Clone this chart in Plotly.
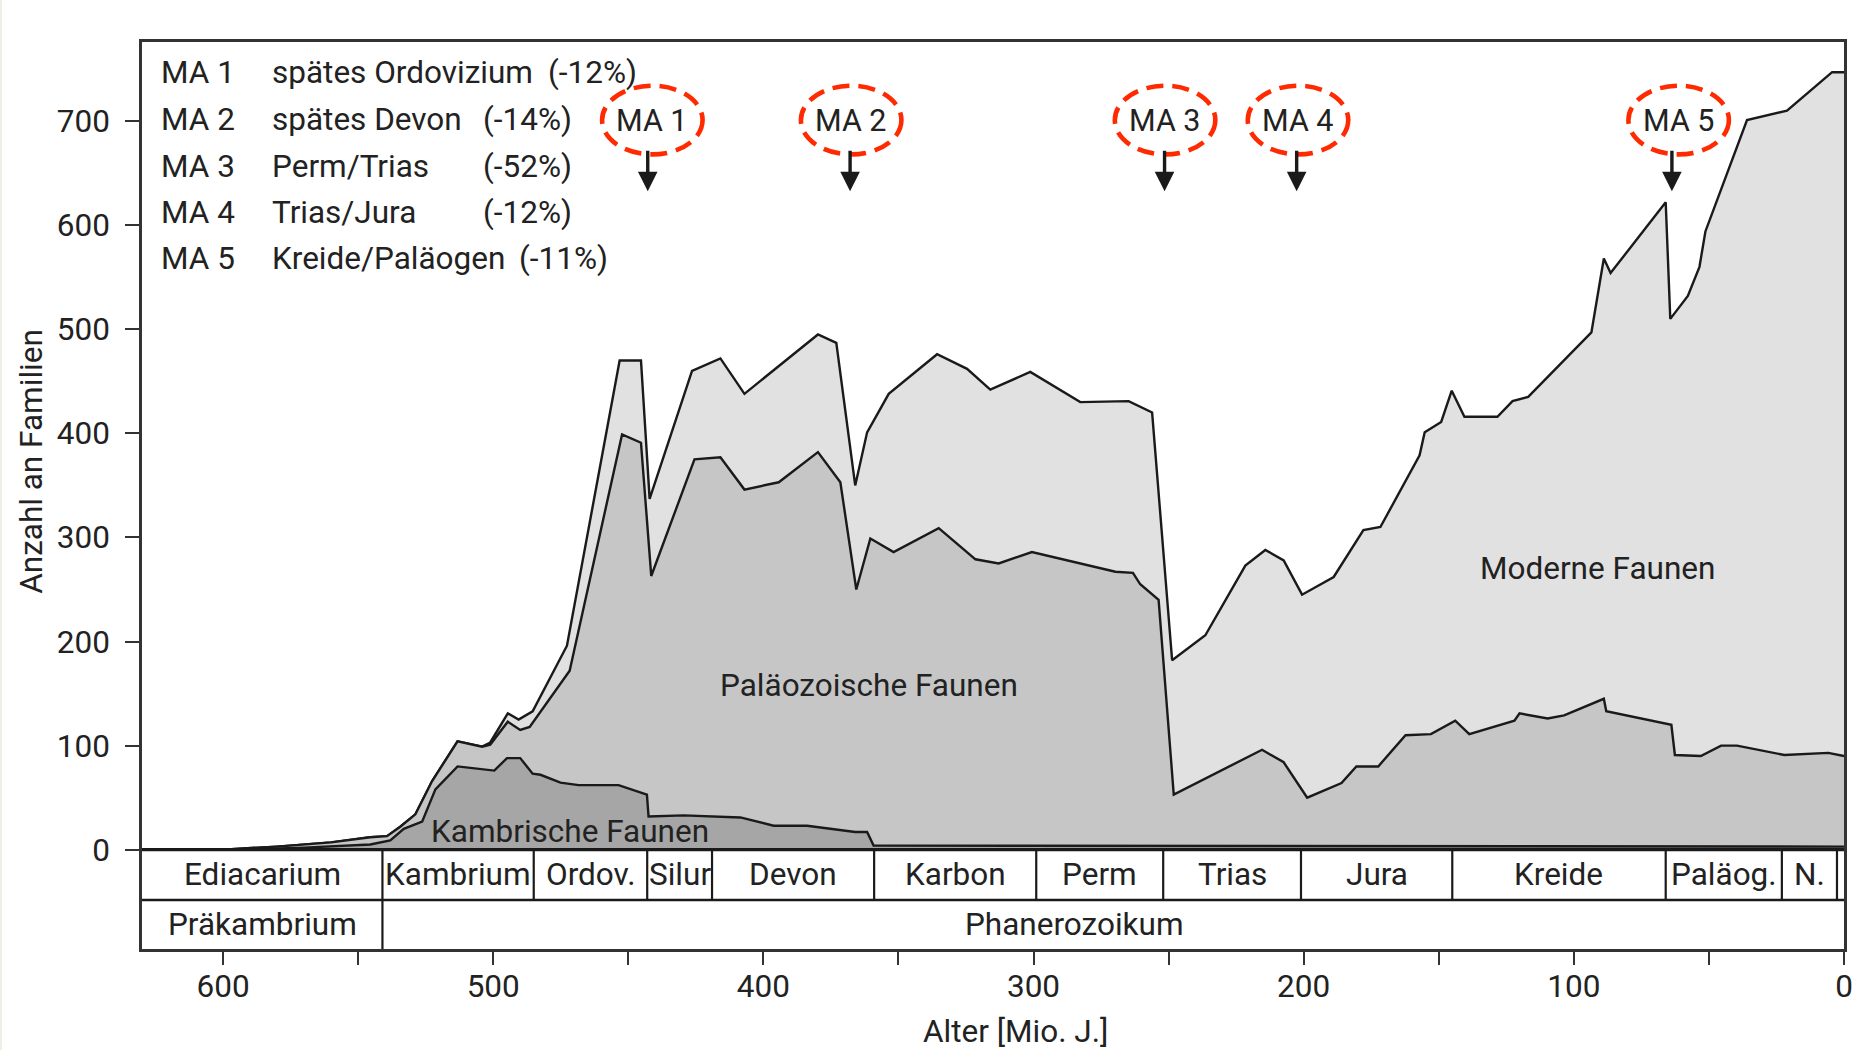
import plotly.graph_objects as go

# ---- Diversität mariner Familien (kumulierte Oberkanten der drei Evolutionsfaunen) ----
# Oberkante gesamt (= Moderne Faunen oben)
alter_gesamt = [600, 580, 560, 545.5, 539.3, 534.4, 528.8, 522.6, 513.2, 504.1, 501.1, 494.6,
                490.6, 485.4, 472.7, 453.2, 445.3, 442.1, 426.4, 415.9, 407.0, 379.8, 373.0,
                366.0, 361.6, 353.6, 335.7, 324.6, 316.0, 301.2, 282.7, 264.8, 256.1, 248.7,
                236.4, 221.6, 214.2, 207.4, 200.6, 188.9, 177.9, 171.6, 157.1, 155.2, 149.1,
                145.2, 140.5, 128.3, 122.7, 116.9, 93.5, 88.9, 86.4, 66.0, 64.3, 57.8, 53.5,
                51.3, 35.9, 21.1, 4.4, 0]
gesamt = [0, 3, 7, 12, 13, 22, 34, 66, 104, 99, 103, 131,
          125, 133, 196, 470, 470, 337, 460, 472, 438, 495, 487,
          350, 401, 438, 476, 462, 442, 459, 430, 431, 420, 182,
          206, 273, 288, 278, 245, 262, 307, 310, 379, 401, 411,
          441, 416, 416, 431, 435, 497, 568, 554, 622, 510, 532, 560,
          594, 701, 710, 747, 747]

# Oberkante Paläozoische Faunen (Kambrische + Paläozoische)
alter_palaeo = [600, 580, 560, 545.5, 539.3, 534.4, 528.8, 522.6, 513.2, 504.1, 501.1, 494.6,
                490.0, 486.5, 471.7, 452.3, 445.3, 441.5, 425.5, 415.9, 407.0, 394.3, 379.8,
                371.5, 365.6, 360.4, 351.8, 335.1, 321.5, 312.9, 300.6, 269.7, 263.2, 260.5,
                253.7, 248.1, 215.4, 207.4, 198.7, 186.0, 180.5, 172.4, 162.3, 152.9, 143.9,
                138.7, 122.0, 120.1, 109.7, 103.6, 88.9, 88.0, 63.9, 62.6, 53.0, 45.5, 39.6,
                22.1, 5.8, 0]
palaeo_kum = [0, 3, 7, 12, 13, 22, 34, 66, 104, 99, 101, 123,
              115, 118, 172, 399, 391, 263, 375, 377, 346, 353, 382,
              353, 250, 299, 286, 309, 279, 275, 286, 267, 266, 255,
              240, 53, 96, 84, 50, 64, 80, 80, 110, 111, 124,
              111, 124, 131, 126, 129, 145, 133, 120, 91, 90, 100, 100,
              91, 93, 90]

# Oberkante Kambrische Faunen
alter_kambr = [595, 570, 545.5, 538.1, 533.1, 526.3, 521.4, 513.2, 499.6, 494.9, 490.0, 485.4,
               482.5, 475.1, 468.4, 453.6, 443.1, 442.5, 429.5, 408.5, 396.2, 383.8, 366.0,
               361.6, 359.2, 0]
kambr = [0, 2, 5, 9, 20, 27, 58, 80, 76, 88, 88, 73,
         72, 64.5, 62, 62, 53, 32, 33, 31, 23, 23, 17,
         17, 4, 3]

# ---- Geologische Zeitskala ----
perioden = ["Ediacarium", "Kambrium", "Ordov.", "Silur", "Devon", "Karbon", "Perm",
            "Trias", "Jura", "Kreide", "Paläog.", "N.", ""]
perioden_grenzen = [630, 541, 485, 443, 419, 359, 299, 252, 201, 145, 66, 23, 2.6, 0]
aeonen = ["Präkambrium", "Phanerozoikum"]
aeonen_grenzen = [630, 541, 0]
aeonen_textpos = [585.5, 285]

# ---- Massenaussterben ----
ereignisse = ["MA 1", "MA 2", "MA 3", "MA 4", "MA 5"]
ereignis_alter = [441.1, 367.5, 251.3, 202.1, 61.2]
pfeil_alter = [442.8, 367.9, 251.5, 202.6, 63.7]
legende_zeitraum = ["spätes Ordovizium", "spätes Devon", "Perm/Trias", "Trias/Jura",
                    "Kreide/Paläogen"]
legende_prozent = ["(-12%)", "(-14%)", "(-52%)", "(-12%)", "(-11%)"]
legende_zeilen_y = [747, 702, 656, 612, 568]
legende_prozent_x = [480.5, 504.5, 504.5, 504.5, 491.1]
legende_spalten_x = [623.7, 582.6]

FONT = "Roboto"
FS = 31.5
TXT = "#222222"
LINE = "#1a1a1a"
FRAME = "#333333"

X_MAX, X_MIN = 630, 0
Y_MIN, Y_MAX = -95.4, 776
ZEILE = -48.3   # Trennlinie Perioden / Äonen

fig = go.Figure()

for xs, ys, col in [(alter_gesamt, gesamt, "#e1e1e1"),
                    (alter_palaeo, palaeo_kum, "#c6c6c6"),
                    (alter_kambr, kambr, "#a6a6a6")]:
    fig.add_trace(go.Scatter(x=xs, y=ys, mode="lines", fill="tozeroy", fillcolor=col,
                             line=dict(color=LINE, width=2.4), hoverinfo="skip",
                             showlegend=False))

shapes = []
annotations = []

# weißer Seitenhintergrund mit schmalem Rand
L, R, T, B = 142, 32, 42, 101
W, H = 1876, 1050
pw, ph = W - L - R, H - T - B
shapes.append(dict(type="rect", xref="paper", yref="paper",
                   x0=(2 - L) / pw, x1=(W - L) / pw,
                   y0=-(B) / ph, y1=(H - T - 3) / ph,
                   fillcolor="white", line=dict(width=0), layer="below"))

# Zeitskala: Perioden-Zeile
for g in perioden_grenzen[1:-1]:
    shapes.append(dict(type="line", xref="x", yref="y", x0=g, x1=g, y0=ZEILE, y1=0,
                       line=dict(color=LINE, width=2.2), layer="above"))
for name, a, b in zip(perioden, perioden_grenzen[:-1], perioden_grenzen[1:]):
    if name:
        annotations.append(dict(x=(a + b) / 2, y=ZEILE / 2, xref="x", yref="y", text=name,
                                showarrow=False, font=dict(family=FONT, size=FS, color=TXT)))
# Äonen-Zeile
shapes.append(dict(type="line", xref="x", yref="y", x0=X_MAX, x1=X_MIN, y0=ZEILE, y1=ZEILE,
                   line=dict(color=LINE, width=2.4), layer="above"))
for g in aeonen_grenzen[1:-1]:
    shapes.append(dict(type="line", xref="x", yref="y", x0=g, x1=g, y0=Y_MIN, y1=ZEILE,
                       line=dict(color=LINE, width=2.2), layer="above"))
for name, xp in zip(aeonen, aeonen_textpos):
    annotations.append(dict(x=xp, y=(ZEILE + Y_MIN) / 2, xref="x", yref="y", text=name,
                            showarrow=False, font=dict(family=FONT, size=FS, color=TXT)))
# Grundlinie
shapes.append(dict(type="line", xref="x", yref="y", x0=X_MAX, x1=X_MIN, y0=0, y1=0,
                   line=dict(color=LINE, width=3.2), layer="above"))

# Massenaussterben: gestrichelte Ellipsen, Beschriftung, Pfeile
for name, xa, xp in zip(ereignisse, ereignis_alter, pfeil_alter):
    shapes.append(dict(type="circle", xref="x", yref="y", x0=xa - 18.6, x1=xa + 18.6,
                       y0=668, y1=734, line=dict(color="#ff2a00", width=4.6, dash="17px,9px"),
                       layer="above"))
    annotations.append(dict(x=xa, y=701, xref="x", yref="y", text=name, showarrow=False,
                            font=dict(family=FONT, size=30.5, color=TXT)))
    annotations.append(dict(x=xp, y=632.5, xref="x", yref="y", text="", showarrow=True,
                            ax=0, ay=-42, arrowhead=2, arrowwidth=3.4, arrowsize=1.15,
                            arrowcolor=LINE, standoff=0))

# Legende oben links
for lab, zeitraum, proz, yv, xpr in zip(ereignisse, legende_zeitraum, legende_prozent,
                                        legende_zeilen_y, legende_prozent_x):
    for txt, xv in [(lab, legende_spalten_x[0]), (zeitraum, legende_spalten_x[1]), (proz, xpr)]:
        annotations.append(dict(x=xv, y=yv, xref="x", yref="y", text=txt, showarrow=False,
                                xanchor="left", font=dict(family=FONT, size=FS, color=TXT)))

# Faunenbeschriftungen
for txt, xv, yv in [("Paläozoische Faunen", 361.0, 157.5),
                    ("Kambrische Faunen", 471.6, 17.2),
                    ("Moderne Faunen", 91.2, 270)]:
    annotations.append(dict(x=xv, y=yv, xref="x", yref="y", text=txt, showarrow=False,
                            font=dict(family=FONT, size=FS, color=TXT)))

# Achsentitel
annotations.append(dict(x=(1015.7 - L) / pw, y=(H - B - 1031.3) / ph, xref="paper",
                        yref="paper", xanchor="center", yanchor="middle",
                        text="Alter [Mio. J.]", showarrow=False,
                        font=dict(family=FONT, size=FS, color=TXT)))
annotations.append(dict(x=(32 - L) / pw, y=(H - B - 461.8) / ph, xref="paper",
                        yref="paper", xanchor="center", yanchor="middle",
                        text="Anzahl an Familien", showarrow=False,
                        textangle=-90, font=dict(family=FONT, size=FS, color=TXT)))

x_ticks = list(range(600, -1, -50))
x_text = [str(v) if v % 100 == 0 else "" for v in x_ticks]

fig.update_layout(
    width=W, height=H,
    margin=dict(l=L, r=R, t=T, b=B),
    paper_bgcolor="#efefe6", plot_bgcolor="white",
    shapes=shapes, annotations=annotations,
    xaxis=dict(range=[X_MAX, X_MIN], tickvals=x_ticks, ticktext=x_text, ticks="outside",
               ticklen=13, tickwidth=2.4, tickcolor=FRAME, showline=True, mirror=True,
               linecolor=FRAME, linewidth=2.6, showgrid=False, zeroline=False,
               ticklabelstandoff=-6,
               tickfont=dict(family=FONT, size=FS, color=TXT)),
    yaxis=dict(range=[Y_MIN, Y_MAX], tickvals=list(range(0, 701, 100)), ticks="outside",
               ticklen=14, tickwidth=2.4, tickcolor=FRAME, showline=True, mirror=True,
               linecolor=FRAME, linewidth=2.6, showgrid=False, zeroline=False,
               ticklabelstandoff=9, tickfont=dict(family=FONT, size=FS, color=TXT)),
)

fig.write_html("out.html")
